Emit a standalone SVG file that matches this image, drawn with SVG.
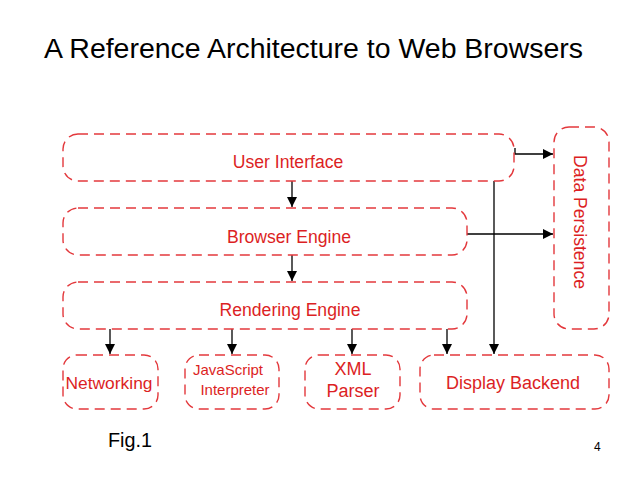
<svg xmlns="http://www.w3.org/2000/svg" width="638" height="478" viewBox="0 0 638 478">
<style>
.box{fill:none;stroke:#e3383c;stroke-width:1.4;stroke-dasharray:10 6}
.lbl{font-family:"Liberation Sans",Arial,sans-serif;fill:#dc1f24;text-anchor:middle}
.ln{stroke:#000;stroke-width:1.3;fill:none}
</style>
<defs>
<marker id="ah" viewBox="0 0 10 10" refX="10" refY="5" markerWidth="10" markerHeight="10" markerUnits="userSpaceOnUse" orient="auto"><path d="M0,0 L10,5 L0,10 z" fill="#000"/></marker>
</defs>
<rect width="638" height="478" fill="#fff"/>
<text x="44" y="58" font-family="Liberation Sans,Arial,sans-serif" font-size="27" fill="#000" textLength="539" lengthAdjust="spacingAndGlyphs">A Reference Architecture to Web Browsers</text>
<g id="connectors">
<path class="ln" d="M292,181 V207" marker-end="url(#ah)"/>
<path class="ln" d="M292,255 V281" marker-end="url(#ah)"/>
<path class="ln" d="M110,329 V354" marker-end="url(#ah)"/>
<path class="ln" d="M232,329 V354" marker-end="url(#ah)"/>
<path class="ln" d="M352,329 V354" marker-end="url(#ah)"/>
<path class="ln" d="M447,329 V354" marker-end="url(#ah)"/>
<path class="ln" d="M494,181 V354" marker-end="url(#ah)"/>
<path class="ln" d="M515,148 V154 H553" marker-end="url(#ah)"/>
<path class="ln" d="M467,234 H553" marker-end="url(#ah)"/>
</g>
<g id="user-interface"><rect class="box" x="63" y="134" width="451" height="47" rx="15"/><text class="lbl" x="288" y="168" font-size="17.6">User Interface</text></g>
<g id="browser-engine"><rect class="box" x="63" y="208" width="404" height="47" rx="15"/><text class="lbl" x="289" y="243" font-size="17.6">Browser Engine</text></g>
<g id="rendering-engine"><rect class="box" x="63" y="282" width="404" height="47" rx="15"/><text class="lbl" x="290" y="316" font-size="17.6">Rendering Engine</text></g>
<g id="data-persistence"><rect class="box" x="554" y="127" width="55" height="202" rx="15"/><text class="lbl" font-size="17.6" transform="translate(574,222) rotate(90)">Data Persistence</text></g>
<g id="networking"><rect class="box" x="63" y="355" width="95" height="54" rx="14"/><text class="lbl" x="109" y="389" font-size="17.4">Networking</text></g>
<g id="javascript-interpreter"><rect class="box" x="185" y="355" width="94" height="54" rx="14"/><text class="lbl" x="228" y="375" font-size="15">JavaScript</text><text class="lbl" x="235" y="395" font-size="15">Interpreter</text></g>
<g id="xml-parser"><rect class="box" x="305" y="355" width="95" height="54" rx="14"/><text class="lbl" x="353" y="375" font-size="18">XML</text><text class="lbl" x="353" y="397" font-size="18">Parser</text></g>
<g id="display-backend"><rect class="box" x="420" y="355" width="189" height="54" rx="14"/><text class="lbl" x="513" y="389" font-size="18">Display Backend</text></g>
<text x="108" y="447" font-family="Liberation Sans,Arial,sans-serif" font-size="19.8" fill="#000">Fig.1</text>
<text x="594" y="451" font-family="Liberation Sans,Arial,sans-serif" font-size="12" fill="#000">4</text>
</svg>
